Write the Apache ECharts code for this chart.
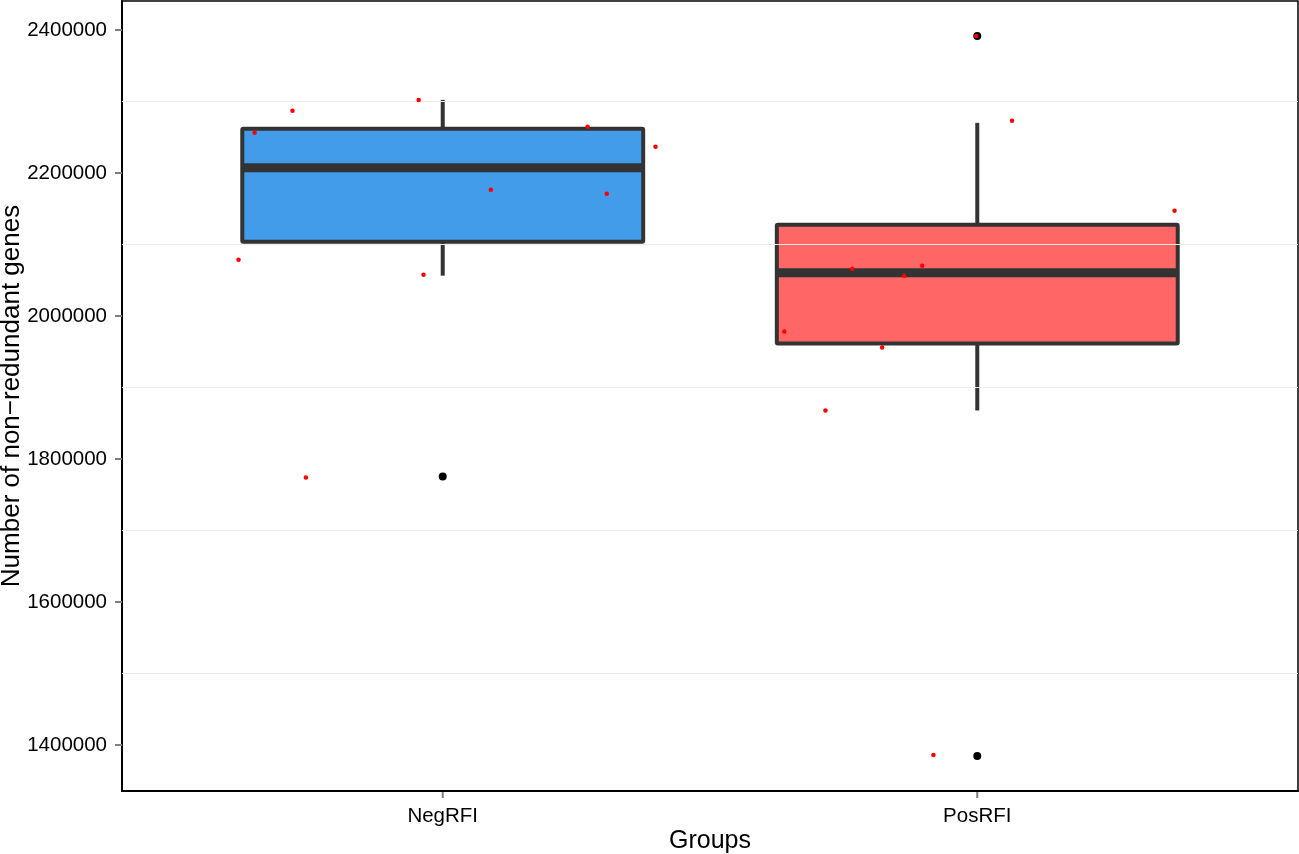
<!DOCTYPE html>
<html>
<head>
<meta charset="utf-8">
<title>Number of non-redundant genes</title>
<script src="https://cdn.jsdelivr.net/npm/echarts@6/dist/echarts.min.js"></script>
<style>
    html, body { margin: 0; padding: 0; background: #fff; }
    #main { width: 1299px; height: 854px; }
</style>
</head>
<body>
<div id="main"></div>
<script>
    // groups on the x axis (positions 1 and 2)
    var groups = ['NegRFI', 'PosRFI'];
    var boxColors = ['#429cea', '#ff6666'];

    // box stats: [lower whisker, Q1, median, Q3, upper whisker]
    var negBox = [2056400, 2103900, 2207300, 2261700, 2302200];
    var posBox = [1867900, 1961500, 2060600, 2127700, 2270100];

    // outliers (black dots): [group position, value]
    var outliers = [[1, 1775700], [2, 2391600], [2, 1384600]];

    // jittered raw points: horizontal offset from the group centre, value
    var negJitter = [-0.382, -0.352, -0.281, -0.256, -0.045, -0.036, 0.090, 0.271, 0.307, 0.398];
    var negValues = [2078800, 2256100, 2286900, 1774300, 2302200, 2057800, 2176500, 2264500, 2171000, 2236600];
    var posJitter = [-0.361, -0.284, -0.234, -0.178, -0.137, -0.103, -0.082, -0.002, 0.065, 0.369];
    var posValues = [1978200, 1867900, 2066200, 1955900, 2056400, 2070400, 1386000, 2391600, 2272900, 2147200];

    // light minor grid lines
    var minorBreaks = [1500000, 1700000, 1900000, 2100000, 2300000];

    var yMin = 1335754, yMax = 2440503;

    var boxData = [[1].concat(negBox), [2].concat(posBox)];

    var jitterData = [];
    for (var i = 0; i < negValues.length; i++) {
        jitterData.push([1 + negJitter[i], negValues[i]]);
    }
    for (var j = 0; j < posValues.length; j++) {
        jitterData.push([2 + posJitter[j], posValues[j]]);
    }

    var font = 'Liberation Sans, Arial, Helvetica, sans-serif';

    function renderBox(params, api) {
        var x = api.value(0);
        var lo = api.coord([x, api.value(1)]);
        var q1 = api.coord([x, api.value(2)]);
        var md = api.coord([x, api.value(3)]);
        var q3 = api.coord([x, api.value(4)]);
        var hi = api.coord([x, api.value(5)]);
        var half = api.size([0.375, 0])[0];
        var stroke = '#333333';
        return {
            type: 'group',
            children: [
                { type: 'line', shape: { x1: hi[0], y1: hi[1], x2: q3[0], y2: q3[1] },
                  style: { stroke: stroke, lineWidth: 4 } },
                { type: 'line', shape: { x1: q1[0], y1: q1[1], x2: lo[0], y2: lo[1] },
                  style: { stroke: stroke, lineWidth: 4 } },
                { type: 'rect', shape: { x: q3[0] - half, y: q3[1], width: half * 2, height: q1[1] - q3[1], r: 1 },
                  style: { fill: boxColors[params.dataIndex], stroke: stroke, lineWidth: 4, lineJoin: 'round' } },
                { type: 'line', shape: { x1: md[0] - half, y1: md[1], x2: md[0] + half, y2: md[1] },
                  style: { stroke: stroke, lineWidth: 9 } }
            ]
        };
    }

    var myChart = echarts.init(document.getElementById('main'));
    var option = {
        backgroundColor: '#ffffff',
        animation: false,
        grid: {
            left: 122, right: 1, top: 1, bottom: 63,
            outerBoundsMode: 'none',
            containLabel: false,
            show: true, borderColor: '#000', borderWidth: 1.5, backgroundColor: '#fff'
        },
        xAxis: {
            type: 'value',
            min: 0.4,
            max: 2.6,
            splitLine: { show: false },
            axisLine: { show: true, onZero: false, lineStyle: { color: '#000', width: 2 } },
            axisTick: { show: false },
            axisLabel: { show: false },
            name: 'Groups',
            nameLocation: 'middle',
            nameGap: 38,
            nameMoveOverlap: false,
            nameTextStyle: { fontFamily: font, fontSize: 25, color: '#000' }
        },
        yAxis: {
            type: 'value',
            min: yMin,
            max: yMax,
            splitNumber: 5,
            splitLine: { show: false },
            axisLine: { show: true, onZero: false, lineStyle: { color: '#000', width: 2 } },
            axisTick: { show: true, length: 7, lineStyle: { color: '#7f7f7f', width: 2 } },
            axisLabel: {
                showMinLabel: false, showMaxLabel: false,
                margin: 15, fontFamily: font, fontSize: 20.5, color: '#000',
                formatter: function (v) { return String(v); }
            },
            name: 'Number of non\u2212redundant genes',
            nameLocation: 'middle',
            nameGap: 97,
            nameMoveOverlap: false,
            nameTextStyle: { fontFamily: font, fontSize: 26, color: '#000' }
        },
        series: [
            {
                type: 'scatter',
                name: 'grid',
                data: [],
                silent: true,
                markLine: {
                    silent: true,
                    symbol: 'none',
                    label: { show: false },
                    lineStyle: { color: '#ebebeb', width: 1.2, type: 'solid' },
                    data: minorBreaks.map(function (v) { return { yAxis: v }; })
                }
            },
            {
                type: 'custom',
                name: 'box',
                renderItem: renderBox,
                encode: { x: 0, y: [1, 2, 3, 4, 5] },
                data: boxData,
                z: 3
            },
            {
                type: 'scatter',
                name: 'outliers',
                symbolSize: 8,
                itemStyle: { color: '#000', opacity: 1 },
                data: outliers,
                z: 4
            },
            {
                type: 'scatter',
                name: 'points',
                symbolSize: 4.5,
                itemStyle: { color: '#ff0000', opacity: 1 },
                data: jitterData,
                z: 5
            }
        ]
    };
    myChart.setOption(option);

    // group tick marks and labels, placed through the x scale
    var bottomY = myChart.convertToPixel({ gridIndex: 0 }, [1, yMin])[1];
    var gfx = [];
    groups.forEach(function (g, k) {
        var px = myChart.convertToPixel({ gridIndex: 0 }, [k + 1, yMin])[0];
        gfx.push({
            type: 'line',
            shape: { x1: px, y1: bottomY, x2: px, y2: bottomY + 7 },
            style: { stroke: '#7f7f7f', lineWidth: 2 }
        });
        gfx.push({
            type: 'text',
            x: px, y: bottomY + 15,
            style: { text: g, fontFamily: font, fontSize: 20.5, fill: '#000', align: 'center', verticalAlign: 'top' }
        });
    });
    myChart.setOption({ graphic: gfx });
</script>
</body>
</html>
